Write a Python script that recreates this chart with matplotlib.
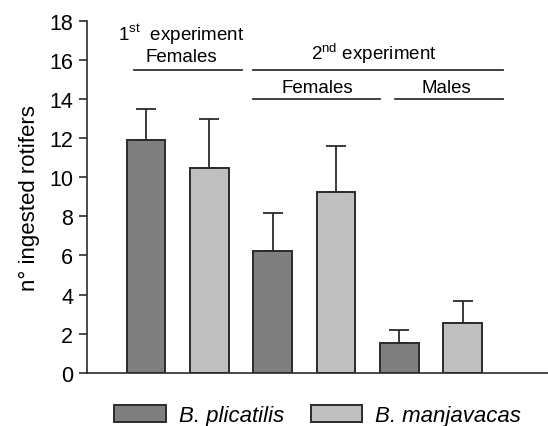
import numpy as np
import matplotlib.pyplot as plt
from matplotlib.patches import Patch

plt.rcParams['font.family'] = ['Liberation Sans', 'DejaVu Sans']
plt.rcParams['mathtext.fontset'] = 'custom'
plt.rcParams['mathtext.rm'] = 'Liberation Sans'

# groups: 1st exp females, 2nd exp females, 2nd exp males
species = ['B. plicatilis', 'B. manjavacas']
plicatilis_mean = [11.9, 6.25, 1.5]
plicatilis_err = [1.6, 1.95, 0.7]
manjavacas_mean = [10.5, 9.25, 2.55]
manjavacas_err = [2.5, 2.35, 1.1]
yticks = [0, 2, 4, 6, 8, 10, 12, 14, 16, 18]

dark = '#7f7f7f'
light = '#c0c0c0'
edge = '#2b2b2b'


def main():
    fig = plt.figure(figsize=(5.48, 4.27), dpi=100)
    ax = fig.add_axes([0.159, 0.125, 0.841, 0.823])

    groups = np.arange(3) * 2
    width = 0.61
    err_kw = dict(ecolor=edge, elinewidth=1.3, capsize=7, capthick=1.3)
    ax.bar(groups, plicatilis_mean, width, color=dark, edgecolor=edge,
           linewidth=1.4, yerr=[np.zeros(3), plicatilis_err],
           error_kw=err_kw, zorder=2)
    ax.bar(groups + 1, manjavacas_mean, width, color=light, edgecolor=edge,
           linewidth=1.4, yerr=[np.zeros(3), manjavacas_err],
           error_kw=err_kw, zorder=2)

    ax.set_xlim(-0.932, 6.35)
    ax.set_ylim(0, 18)
    ax.set_yticks(yticks)
    ax.set_xticks([])
    ax.tick_params(axis='y', labelsize=15.5, length=6, width=1.2,
                   color=edge, direction='out', pad=4)
    for side in ['top', 'right']:
        ax.spines[side].set_visible(False)
    for side in ['left', 'bottom']:
        ax.spines[side].set_linewidth(1.2)
        ax.spines[side].set_color(edge)
    ax.set_ylabel('n° ingested rotifers', fontsize=16, labelpad=7)

    # experiment / sex group labels above the bars
    lkw = dict(color='#333333', linewidth=1.3, clip_on=False)
    ax.plot([-0.19, 1.52], [15.5, 15.5], **lkw)
    ax.plot([1.69, 5.64], [15.5, 15.5], **lkw)
    ax.plot([1.69, 3.70], [14.0, 14.0], **lkw)
    ax.plot([3.93, 5.64], [14.0, 14.0], **lkw)

    tkw = dict(ha='center', va='center', fontsize=13.5)
    ax.text(0.55, 17.35, r'1$^{\rm st}$  experiment', **tkw)
    ax.text(0.55, 16.2, 'Females', **tkw)
    ax.text(3.6, 16.4, r'2$^{\rm nd}$ experiment', **tkw)
    ax.text(2.7, 14.6, 'Females', **tkw)
    ax.text(4.74, 14.6, 'Males', **tkw)

    handles = [Patch(facecolor=dark, edgecolor=edge, linewidth=1.4),
               Patch(facecolor=light, edgecolor=edge, linewidth=1.4)]
    fig.legend(handles, species, loc='center', bbox_to_anchor=(0.58, 0.025),
               ncol=2, frameon=False, handlelength=2.3, handleheight=0.8,
               handletextpad=0.6, columnspacing=1.2,
               prop=dict(size=16, style='italic'))

    fig.savefig('out.png', dpi=100)


if __name__ == "__main__":
    main()
